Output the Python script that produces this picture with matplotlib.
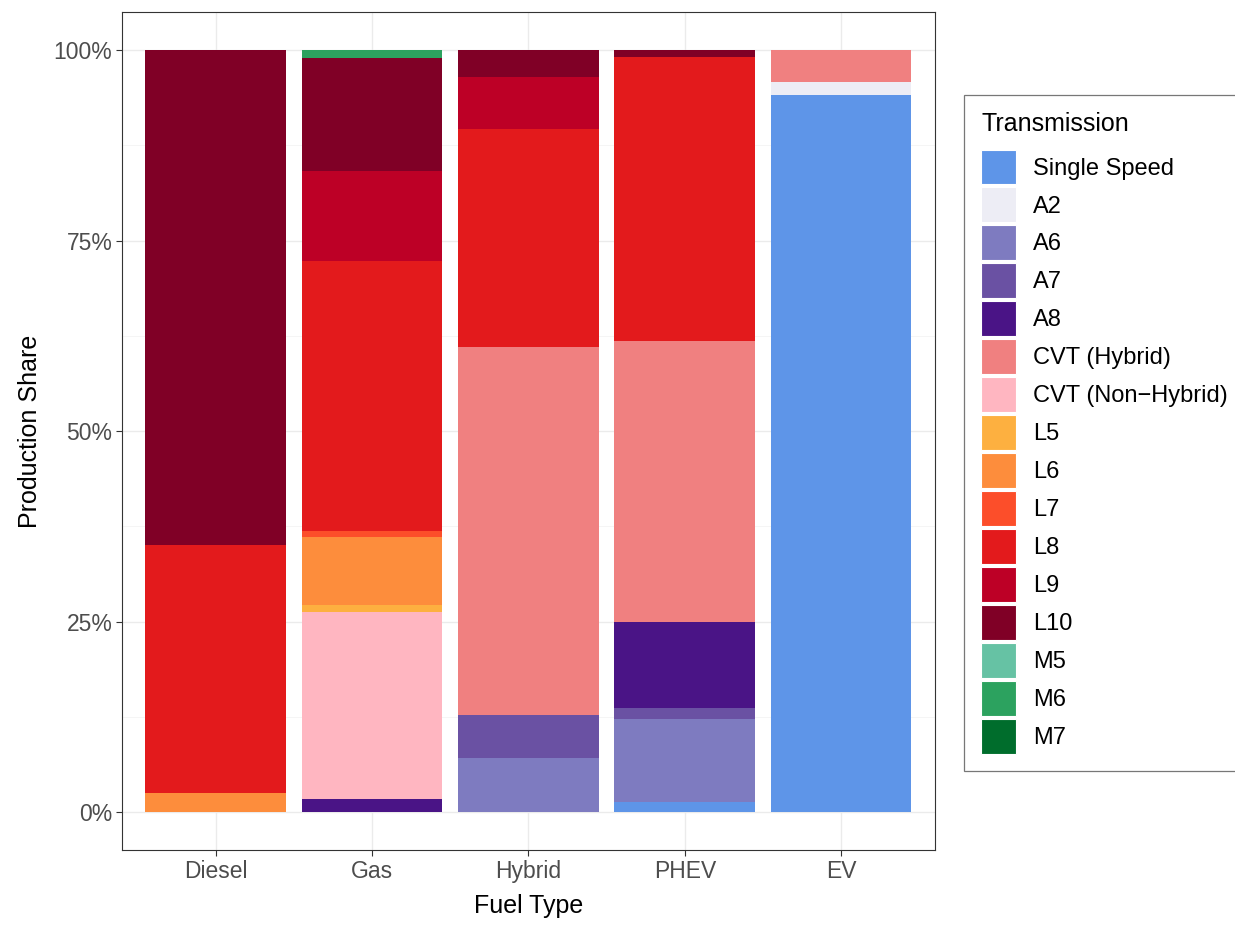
import matplotlib
matplotlib.use("Agg")
import matplotlib.pyplot as plt
from matplotlib.patches import Patch
from matplotlib.ticker import FuncFormatter, MultipleLocator
import numpy as np

fuel_types = ["Diesel", "Gas", "Hybrid", "PHEV", "EV"]

transmissions = ["Single Speed", "A2", "A6", "A7", "A8", "CVT (Hybrid)",
                 "CVT (Non\u2212Hybrid)", "L5", "L6", "L7", "L8", "L9", "L10",
                 "M5", "M6", "M7"]

# production share (%) per transmission for Diesel, Gas, Hybrid, PHEV, EV
single_speed = [0, 0, 0, 1.3, 94.1]
a2 = [0, 0, 0, 0, 1.7]
a6 = [0, 0, 7.1, 10.9, 0]
a7 = [0, 0, 5.6, 1.5, 0]
a8 = [0, 1.7, 0, 11.3, 0]
cvt_hybrid = [0, 0, 48.3, 36.8, 4.2]
cvt_non_hybrid = [0, 24.5, 0, 0, 0]
l5 = [0, 1.0, 0, 0, 0]
l6 = [2.5, 8.9, 0, 0, 0]
l7 = [0, 0.8, 0, 0, 0]
l8 = [32.6, 35.4, 28.7, 37.3, 0]
l9 = [0, 11.9, 6.8, 0, 0]
l10 = [64.9, 14.8, 3.5, 0.9, 0]
m5 = [0, 0, 0, 0, 0]
m6 = [0, 1.0, 0, 0, 0]
m7 = [0, 0, 0, 0, 0]

series = [single_speed, a2, a6, a7, a8, cvt_hybrid, cvt_non_hybrid,
          l5, l6, l7, l8, l9, l10, m5, m6, m7]

colors = ["#5E95E8", "#EDEDF5", "#7E7BC0", "#6A51A3", "#4A1486", "#F08080",
          "#FFB6C1", "#FDB040", "#FD8D3C", "#FC4E2A", "#E31A1C", "#BD0026",
          "#800026", "#66C2A4", "#2CA25F", "#006D2C"]

plt.rcParams["font.family"] = ["Liberation Sans", "DejaVu Sans"]

fig = plt.figure(figsize=(12.35, 9.26), dpi=100)
ax = fig.add_axes([0.0988, 0.082, 0.6582, 0.905])

x = np.arange(len(fuel_types))
bottom = np.zeros(len(fuel_types))
for vals, col in zip(series, colors):
    v = np.array(vals) / 100.0
    ax.bar(x, v, bottom=bottom, width=0.9, color=col, linewidth=0, zorder=3)
    bottom += v

ax.set_xlim(-0.6, 4.6)
ax.set_ylim(-0.05, 1.05)
ax.set_xticks(x)
ax.set_xticklabels(fuel_types)
ax.yaxis.set_major_locator(MultipleLocator(0.25))
ax.yaxis.set_minor_locator(MultipleLocator(0.125))
ax.yaxis.set_major_formatter(FuncFormatter(lambda v, p: f"{int(round(v*100))}%"))

ax.grid(True, which="major", color="#EBEBEB", linewidth=1.0, zorder=0)
ax.grid(True, which="minor", axis="y", color="#F4F4F4", linewidth=0.6, zorder=0)
ax.set_axisbelow(True)
for s in ax.spines.values():
    s.set_color("#333333")
    s.set_linewidth(0.8)
ax.tick_params(axis="both", which="major", colors="#333333", length=4,
               width=0.8, labelsize=16.5, labelcolor="#4D4D4D", pad=3)
ax.tick_params(axis="y", which="minor", length=0)

ax.set_xlabel("Fuel Type", fontsize=18, labelpad=8)
ax.set_ylabel("Production Share", fontsize=18, labelpad=8)

handles = [Patch(facecolor=c, edgecolor="white", linewidth=0.8) for c in colors]
leg = fig.legend(handles, transmissions, title="Transmission",
                 loc="center left", bbox_to_anchor=(0.7806, 0.5324),
                 fontsize=17, title_fontsize=18, frameon=True,
                 fancybox=False, edgecolor="#555555",
                 handlelength=1.48, handleheight=1.90, labelspacing=0.127,
                 handletextpad=0.72, borderpad=0.72, borderaxespad=0)
leg._legend_box.align = "left"
leg._legend_box.sep = 9.5
leg.get_frame().set_linewidth(0.9)

fig.savefig("out.png", dpi=100)
